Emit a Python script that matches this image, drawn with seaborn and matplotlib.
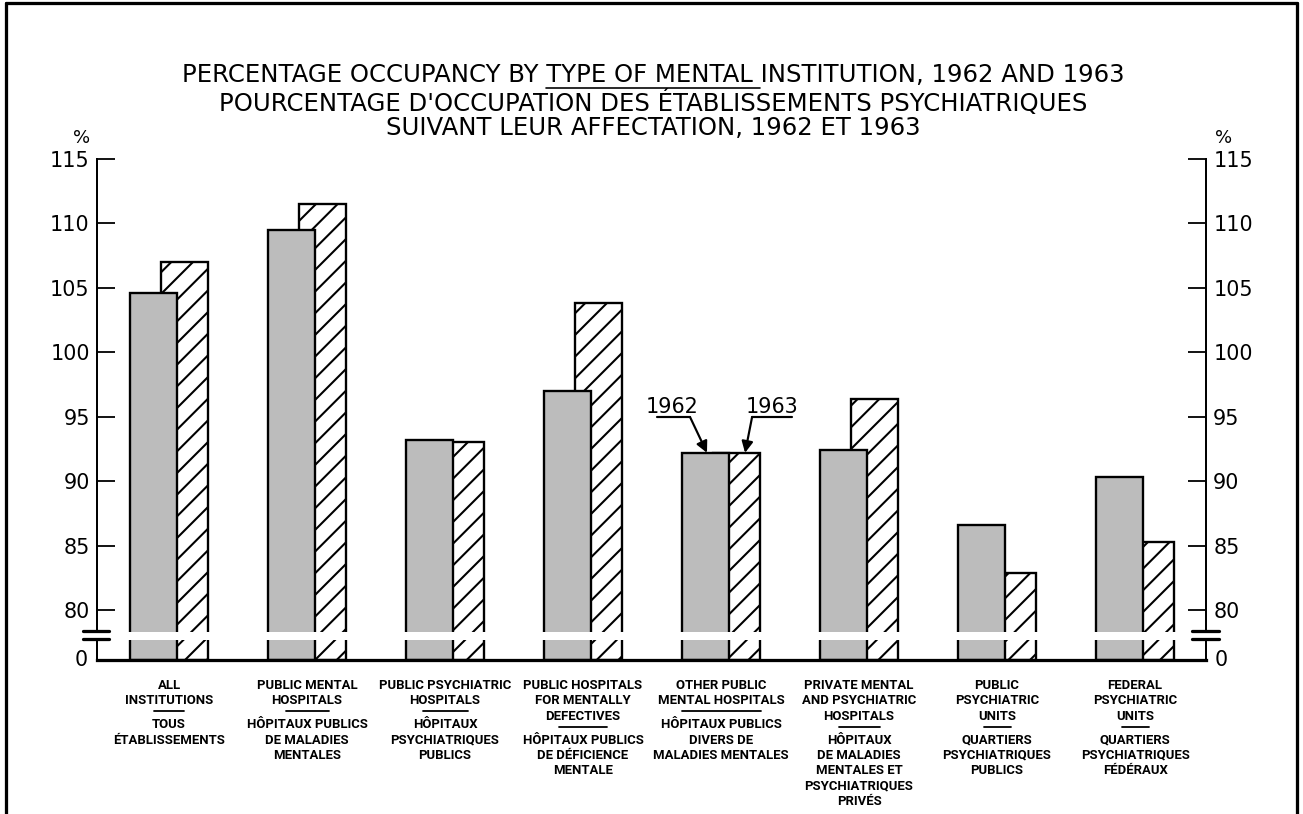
import numpy as np
import pandas as pd
import matplotlib
matplotlib.use("Agg")
import matplotlib.pyplot as plt
import seaborn as sns
from matplotlib.lines import Line2D
from matplotlib import transforms

# ---------------- data ----------------
title_lines = [
    "PERCENTAGE OCCUPANCY BY TYPE OF MENTAL INSTITUTION, 1962 AND 1963",
    "POURCENTAGE D'OCCUPATION DES ÉTABLISSEMENTS PSYCHIATRIQUES",
    "SUIVANT LEUR AFFECTATION, 1962 ET 1963",
]
underlined_words = "TYPE OF MENTAL"
labels_en = [
    ["ALL", "INSTITUTIONS"],
    ["PUBLIC MENTAL", "HOSPITALS"],
    ["PUBLIC PSYCHIATRIC", "HOSPITALS"],
    ["PUBLIC HOSPITALS", "FOR MENTALLY", "DEFECTIVES"],
    ["OTHER PUBLIC", "MENTAL HOSPITALS"],
    ["PRIVATE MENTAL", "AND PSYCHIATRIC", "HOSPITALS"],
    ["PUBLIC", "PSYCHIATRIC", "UNITS"],
    ["FEDERAL", "PSYCHIATRIC", "UNITS"],
]
labels_fr = [
    ["TOUS", "ÉTABLISSEMENTS"],
    ["HÔPITAUX PUBLICS", "DE MALADIES", "MENTALES"],
    ["HÔPITAUX", "PSYCHIATRIQUES", "PUBLICS"],
    ["HÔPITAUX PUBLICS", "DE DÉFICIENCE", "MENTALE"],
    ["HÔPITAUX PUBLICS", "DIVERS DE", "MALADIES MENTALES"],
    ["HÔPITAUX", "DE MALADIES", "MENTALES ET", "PSYCHIATRIQUES", "PRIVÉS"],
    ["QUARTIERS", "PSYCHIATRIQUES", "PUBLICS"],
    ["QUARTIERS", "PSYCHIATRIQUES", "FÉDÉRAUX"],
]
values_1962 = [104.6, 109.5, 93.2, 97.0, 92.2, 92.4, 86.6, 90.3]
values_1963 = [107.0, 111.5, 93.0, 103.8, 92.2, 96.4, 82.9, 85.3]
y_ticks = [80, 85, 90, 95, 100, 105, 110, 115]
year_labels = ["1962", "1963"]
annotated_group = 4

# ---------------- style ----------------
sep_widths_px = [30, 43, 45, 48, 79, 41, 27, 27]
DPI = 130
W, H = 1303, 814


def fx(px):
    return px / W


def fy(py):
    return 1 - py / H


sns.set_style("white")
plt.rcParams["font.family"] = ["DejaVu Sans"]
plt.rcParams["text.color"] = "black"
plt.rcParams["axes.labelcolor"] = "black"
plt.rcParams["xtick.color"] = "black"
plt.rcParams["ytick.color"] = "black"
plt.rcParams["hatch.linewidth"] = 1.15
plt.rcParams["hatch.color"] = "black"

fig = plt.figure(figsize=(W / DPI, H / DPI), dpi=DPI)
ax_top = fig.add_axes([fx(97), fy(632), fx(1206) - fx(97), fy(159) - fy(632)])
ax_bot = fig.add_axes([fx(97), fy(660), fx(1206) - fx(97), fy(640) - fy(660)])

idx = np.arange(len(values_1962))
offset = 0.112
bar_w = 0.34
df = pd.DataFrame({
    "pos62": idx - offset,
    "pos63": idx + offset,
    "v62": values_1962,
    "v63": values_1963,
})

px_per_unit = 12.886
for ax in (ax_top, ax_bot):
    sns.barplot(data=df, x="pos63", y="v63", native_scale=True, width=bar_w,
                color="white", hatch="//", edgecolor="black", linewidth=1.3,
                errorbar=None, saturation=1, ax=ax)
    sns.barplot(data=df, x="pos62", y="v62", native_scale=True, width=bar_w,
                color="#bcbcbc", edgecolor="black", linewidth=1.3,
                errorbar=None, saturation=1, ax=ax)
    ax.set_xlim(-0.522, 7.514)
    ax.set_xticks([])
    ax.set_xlabel("")
    ax.set_ylabel("")
    ax.set_facecolor("none")
    for s in ("left", "right"):
        ax.spines[s].set_linewidth(1.1)
        ax.spines[s].set_color("black")
    ax.spines["top"].set_visible(False)

ax_top.set_ylim(80 - 22 / px_per_unit, 115)
ax_top.spines["bottom"].set_visible(False)
ax_top.set_yticks(y_ticks)
ax_top.tick_params(axis="y", direction="in", length=10, width=1.0,
                   left=True, right=True, labelleft=True, labelright=True,
                   labelsize=11.5, pad=4, colors="black")

ax_bot.set_ylim(0, 20 / px_per_unit)
ax_bot.spines["bottom"].set_linewidth(1.8)
ax_bot.spines["bottom"].set_color("black")
ax_bot.set_yticks([0])
ax_bot.tick_params(axis="y", length=0, left=True, right=True,
                   labelleft=True, labelright=True, labelsize=11.5, pad=5,
                   colors="black")
for lab in ax_bot.get_yticklabels():
    lab.set_va("center")

# break marks
for x0, x1 in ((83, 109), (1192, 1219)):
    for yy in (631, 639):
        fig.add_artist(Line2D([fx(x0), fx(x1)], [fy(yy), fy(yy)], color="black", lw=1.8))

# percent signs
fig.text(fx(82), fy(138), "%", ha="center", va="center", fontsize=10)
fig.text(fx(1224), fy(138), "%", ha="center", va="center", fontsize=10)

# title
title_fs = 13.5
title_texts = []
for line, yy in zip(title_lines, (75, 103, 128)):
    title_texts.append(fig.text(fx(653), fy(yy), line, ha="center", va="center",
                                fontsize=title_fs))

# underline part of the first title line (measured from the rendered text)
fig.canvas.draw()
renderer = fig.canvas.get_renderer()


def text_width(s):
    t = fig.text(0, 0, s, fontsize=title_fs)
    w = t.get_window_extent(renderer).width
    t.remove()
    return w


line1 = title_lines[0]
bb = title_texts[0].get_window_extent(renderer)
k = line1.index(underlined_words)
prefix = line1[:k]
x_start = bb.x0 + text_width(prefix + "T") - text_width("T")
end_prefix = line1[:k + len(underlined_words) + 1]
x_end = bb.x0 + text_width(end_prefix + "I") - text_width("I")
fig.add_artist(Line2D([x_start / W, x_end / W], [fy(88), fy(88)], color="black", lw=0.9))

# category labels
trans = transforms.blended_transform_factory(ax_top.transData, fig.transFigure)
pitch = 15.3
lab_kw = dict(transform=trans, ha="center", va="baseline", fontsize=7.3,
              fontweight="bold", family=["Roboto", "DejaVu Sans"])
for i, (en, fr) in enumerate(zip(labels_en, labels_fr)):
    y = 684
    for j, line in enumerate(en):
        fig.text(i, fy(y + pitch * j + 5), line, **lab_kw)
    last = y + pitch * (len(en) - 1)
    half = sep_widths_px[i] / 2 / 138.0
    fig.add_artist(Line2D([i - half, i + half], [fy(last + 12), fy(last + 12)],
                          transform=trans, color="black", lw=1.0))
    for j, line in enumerate(fr):
        fig.text(i, fy(last + 24 + pitch * j + 5), line, **lab_kw)

# year annotation
g = annotated_group
y_text = 95.75
y_lead = 94.98
arrow_kw = dict(arrowstyle="-|>", color="black", lw=1.2, mutation_scale=13,
                shrinkA=0, shrinkB=0)
ax_top.text(g - 0.351, y_text, year_labels[0], ha="center", va="center", fontsize=11.5)
ax_top.plot([g - 0.464, g - 0.225], [y_lead, y_lead], color="black", lw=1.2)
ax_top.annotate("", xy=(g - offset + 0.01, values_1962[g]), xytext=(g - 0.225, y_lead),
                arrowprops=arrow_kw)
ax_top.text(g + 0.373, y_text, year_labels[1], ha="center", va="center", fontsize=11.5)
ax_top.plot([g + 0.225, g + 0.514], [y_lead, y_lead], color="black", lw=1.2)
ax_top.annotate("", xy=(g + offset + 0.062, values_1963[g]), xytext=(g + 0.225, y_lead),
                arrowprops=arrow_kw)

# page frame
fr_kw = dict(color="black", lw=1.8)
fig.add_artist(Line2D([fx(5.5), fx(5.5)], [0, fy(3)], **fr_kw))
fig.add_artist(Line2D([fx(5.5), fx(1297)], [fy(3), fy(3)], **fr_kw))
fig.add_artist(Line2D([fx(1297), fx(1297)], [fy(3), 0], **fr_kw))

fig.savefig("out.png", dpi=DPI)
